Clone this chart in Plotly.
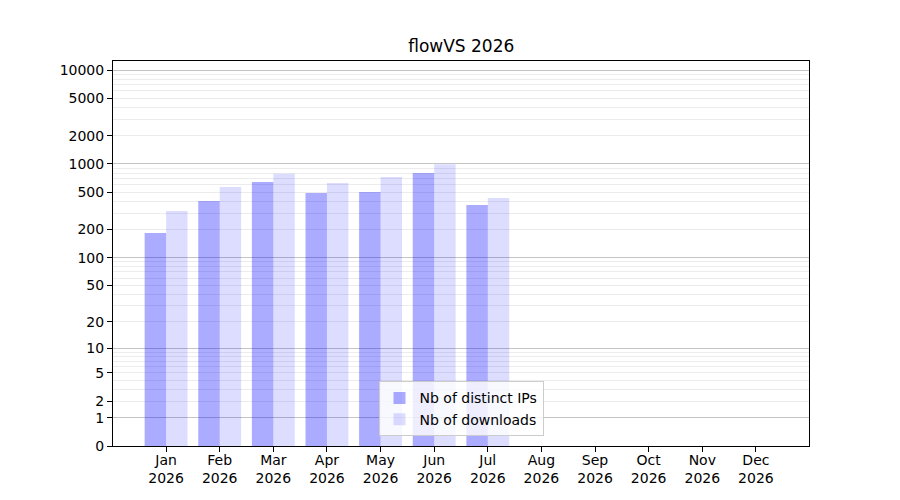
import numpy as np
import plotly.graph_objects as go

# monthly stats, flowVS 2026 (Aug-Dec not yet available -> 0)
months = ["Jan", "Feb", "Mar", "Apr", "May", "Jun",
          "Jul", "Aug", "Sep", "Oct", "Nov", "Dec"]
year = "2026"
distinct_ips = [184, 403, 643, 490, 503, 801, 365, 0, 0, 0, 0, 0]
downloads = [315, 568, 788, 627, 727, 993, 434, 0, 0, 0, 0, 0]

y_tick_values = [0, 1, 2, 5, 10, 20, 50, 100, 200, 500, 1000, 2000, 5000, 10000]
decades = [1, 10, 100, 1000, 10000]


def symlog(v):
    # symlog-like scale: log10(1 + v)
    return np.log10(1 + np.asarray(v, dtype=float))


labels = [f"{m}<br>{year}" for m in months]
minor_vals = [k * 10 ** d for d in range(4) for k in range(2, 10)]

fig = go.Figure()
fig.add_trace(go.Bar(
    x=labels, y=symlog(distinct_ips), name="Nb of distinct IPs",
    marker=dict(color="rgba(0,0,255,0.33)", line=dict(width=0)),
))
fig.add_trace(go.Bar(
    x=labels, y=symlog(downloads), name="Nb of downloads",
    marker=dict(color="rgba(0,0,255,0.135)", line=dict(width=0)),
))
# invisible trace carrying the dark decade gridlines on an overlay axis
fig.add_trace(go.Scatter(x=[labels[0]], y=[0], yaxis="y2", mode="markers",
                         marker=dict(opacity=0), showlegend=False, hoverinfo="skip"))

font = "DejaVu Sans, Verdana, sans-serif"
yrange = [0, 4.096]

# the page body adds an 8px offset, margins compensate for it
fig.update_layout(
    width=900, height=500,
    margin=dict(l=105, r=99, t=53, b=62),
    paper_bgcolor="white", plot_bgcolor="white",
    font=dict(family=font, size=14, color="black"),
    title=dict(text="flowVS 2026", x=0.5036, xanchor="center", y=0.913, yanchor="bottom",
               font=dict(size=17)),
    barmode="group", bargap=0.2, bargroupgap=0,
    showlegend=True,
    legend=dict(x=0.5, y=0.025, xanchor="center", yanchor="bottom",
                bgcolor="rgba(255,255,255,0.8)", bordercolor="#cccccc", borderwidth=1,
                font=dict(size=14), tracegroupgap=0),
    xaxis=dict(
        range=[-0.99, 11.99], showgrid=False, ticks="outside", ticklen=5,
        tickcolor="black", showline=True, linecolor="black", linewidth=1, mirror=True,
        tickangle=0, ticklabelstandoff=-4,
    ),
    yaxis=dict(
        range=yrange, tickmode="array", tickvals=symlog(y_tick_values),
        ticktext=[str(v) for v in y_tick_values],
        ticks="outside", ticklen=5, tickcolor="black", showgrid=False,
        showline=True, linecolor="black", linewidth=1, mirror=True, zeroline=False,
        minor=dict(tickmode="array", tickvals=symlog(minor_vals), showgrid=True,
                   gridcolor="#ececec", gridwidth=1, ticks=""),
    ),
    yaxis2=dict(
        range=yrange, overlaying="y", tickmode="array", tickvals=symlog(decades),
        showticklabels=False, ticks="", showgrid=True, gridcolor="#c4c4c4",
        gridwidth=1, zeroline=False, showline=False,
    ),
)

fig.write_html("out.html")
